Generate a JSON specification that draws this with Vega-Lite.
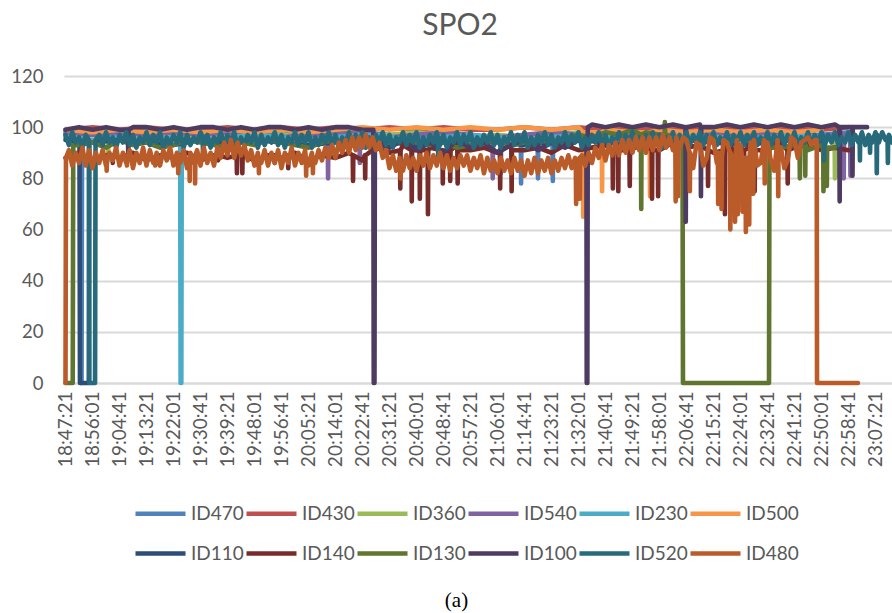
{
"$schema":"https://vega.github.io/schema/vega-lite/v6.json",
"width":828,"height":307,
"autosize":{"type":"none"},
"padding":{"left":64,"top":76,"right":0,"bottom":230},
"background":"white",
"title":{"text":"SPO2","font":"Lato","fontSize":30,"fontWeight":"normal","color":"#595959","anchor":"middle","dx":-18,"offset":26},
"config":{"view":{"stroke":null},"line":{"strokeWidth":4.6,"strokeCap":"round","strokeJoin":"round"}},
"datasets":{
"ID470":[{"t":67641,"v":97},{"t":68161,"v":98},{"t":68681,"v":97},{"t":69201,"v":98},{"t":69721,"v":96},{"t":70241,"v":98},{"t":70761,"v":97},{"t":71281,"v":98},{"t":71801,"v":97},{"t":72321,"v":98},{"t":72841,"v":97},{"t":73361,"v":98},{"t":73881,"v":97},{"t":74401,"v":96},{"t":74921,"v":97},{"t":75441,"v":96},{"t":75961,"v":95},{"t":76481,"v":96},{"t":77001,"v":95},{"t":77521,"v":97},{"t":78041,"v":98},{"t":78561,"v":97},{"t":79081,"v":98},{"t":79601,"v":97},{"t":80121,"v":98},{"t":80641,"v":97},{"t":81161,"v":98},{"t":81681,"v":97},{"t":82201,"v":97},{"t":82721,"v":98},{"t":67925,"v":97},{"t":67935,"v":0},{"t":67950,"v":0},{"t":67960,"v":97},{"t":76020,"v":96},{"t":76026,"v":82},{"t":76032,"v":96},{"t":76410,"v":96},{"t":76416,"v":78},{"t":76422,"v":96},{"t":76735,"v":95},{"t":76741,"v":80},{"t":76747,"v":95},{"t":77021,"v":95},{"t":77027,"v":79},{"t":77033,"v":95}],
"ID430":[{"t":67641,"v":99},{"t":68161,"v":100},{"t":68681,"v":99},{"t":69201,"v":100},{"t":69721,"v":99},{"t":70241,"v":99},{"t":70761,"v":100},{"t":71281,"v":99},{"t":71801,"v":100},{"t":72321,"v":99},{"t":72841,"v":100},{"t":73361,"v":99},{"t":73881,"v":100},{"t":74401,"v":99},{"t":74921,"v":100},{"t":75441,"v":99},{"t":75961,"v":99},{"t":76481,"v":100},{"t":77001,"v":99},{"t":77521,"v":100},{"t":78041,"v":99},{"t":78561,"v":100},{"t":79081,"v":99},{"t":79601,"v":100},{"t":80121,"v":99},{"t":80641,"v":100},{"t":81161,"v":99},{"t":81681,"v":100},{"t":82201,"v":99},{"t":82721,"v":100}],
"ID360":[{"t":67641,"v":96},{"t":68161,"v":97},{"t":68681,"v":95},{"t":69201,"v":97},{"t":69721,"v":96},{"t":70241,"v":97},{"t":70761,"v":96},{"t":71281,"v":95},{"t":71801,"v":97},{"t":72321,"v":96},{"t":72841,"v":97},{"t":73361,"v":96},{"t":73881,"v":97},{"t":74401,"v":98},{"t":74921,"v":97},{"t":75441,"v":96},{"t":75961,"v":97},{"t":76481,"v":96},{"t":77001,"v":97},{"t":77521,"v":98},{"t":78041,"v":97},{"t":78561,"v":96},{"t":79081,"v":97},{"t":79601,"v":96},{"t":80121,"v":97},{"t":80641,"v":98},{"t":81161,"v":97},{"t":81681,"v":96},{"t":82201,"v":95},{"t":82591,"v":96},{"t":68454,"v":96},{"t":68460,"v":87},{"t":68466,"v":96},{"t":82455,"v":96},{"t":82461,"v":80},{"t":82467,"v":96},{"t":82507,"v":96},{"t":82513,"v":81},{"t":82519,"v":96}],
"ID540":[{"t":67641,"v":98},{"t":68161,"v":97},{"t":68681,"v":98},{"t":69201,"v":97},{"t":69721,"v":98},{"t":70241,"v":97},{"t":70761,"v":98},{"t":71281,"v":97},{"t":71801,"v":96},{"t":72321,"v":97},{"t":72841,"v":98},{"t":73361,"v":97},{"t":73881,"v":96},{"t":74401,"v":97},{"t":74921,"v":98},{"t":75441,"v":97},{"t":75961,"v":96},{"t":76481,"v":97},{"t":77001,"v":98},{"t":77521,"v":97},{"t":78041,"v":98},{"t":78561,"v":97},{"t":79081,"v":98},{"t":79601,"v":97},{"t":80121,"v":98},{"t":80641,"v":97},{"t":81161,"v":98},{"t":81681,"v":97},{"t":82201,"v":96},{"t":82721,"v":97},{"t":82800,"v":97},{"t":72692,"v":97},{"t":72698,"v":80},{"t":72704,"v":97},{"t":73303,"v":97},{"t":73309,"v":86},{"t":73315,"v":97},{"t":75864,"v":96},{"t":75870,"v":80},{"t":75876,"v":96},{"t":82624,"v":97},{"t":82630,"v":80},{"t":82636,"v":97},{"t":82754,"v":97},{"t":82760,"v":81},{"t":82766,"v":97}],
"ID230":[{"t":67641,"v":96},{"t":68161,"v":95},{"t":68681,"v":96},{"t":69201,"v":95},{"t":69721,"v":96},{"t":70241,"v":95},{"t":70761,"v":96},{"t":71281,"v":97},{"t":71801,"v":96},{"t":72321,"v":95},{"t":72841,"v":96},{"t":73361,"v":97},{"t":73881,"v":96},{"t":74401,"v":95},{"t":74921,"v":96},{"t":75441,"v":97},{"t":75961,"v":96},{"t":76481,"v":95},{"t":77001,"v":96},{"t":77521,"v":97},{"t":78041,"v":96},{"t":78561,"v":95},{"t":79081,"v":96},{"t":79601,"v":97},{"t":80121,"v":96},{"t":80641,"v":95},{"t":81161,"v":96},{"t":81681,"v":97},{"t":82201,"v":96},{"t":69850,"v":95},{"t":69858,"v":0},{"t":69872,"v":0},{"t":69880,"v":95}],
"ID500":[{"t":67641,"v":99},{"t":68161,"v":98},{"t":68681,"v":99},{"t":69201,"v":98},{"t":69721,"v":99},{"t":70241,"v":98},{"t":70761,"v":99},{"t":71281,"v":98},{"t":71801,"v":99},{"t":72321,"v":98},{"t":72841,"v":99},{"t":73361,"v":100},{"t":73881,"v":99},{"t":74401,"v":100},{"t":74921,"v":99},{"t":75441,"v":100},{"t":75961,"v":99},{"t":76481,"v":100},{"t":77001,"v":99},{"t":77521,"v":100},{"t":78041,"v":99},{"t":78561,"v":98},{"t":79081,"v":99},{"t":79601,"v":98},{"t":80121,"v":99},{"t":80641,"v":98},{"t":81161,"v":99},{"t":81681,"v":98},{"t":82201,"v":99},{"t":77606,"v":98},{"t":77612,"v":65},{"t":77618,"v":98},{"t":77970,"v":98},{"t":77976,"v":75},{"t":77982,"v":98},{"t":78893,"v":98},{"t":78899,"v":73},{"t":78905,"v":98}],
"ID110":[{"t":67641,"v":95},{"t":67910,"v":94},{"t":67920,"v":0},{"t":68090,"v":0},{"t":68100,"v":94},{"t":68161,"v":94},{"t":68681,"v":95},{"t":69201,"v":94},{"t":69721,"v":93},{"t":70241,"v":95},{"t":70761,"v":94},{"t":71281,"v":95},{"t":71801,"v":94},{"t":72321,"v":93},{"t":72841,"v":94},{"t":73361,"v":95},{"t":73881,"v":94},{"t":74401,"v":93},{"t":74921,"v":94},{"t":75441,"v":95},{"t":75961,"v":94},{"t":76481,"v":93},{"t":77001,"v":94},{"t":77521,"v":95},{"t":78041,"v":94},{"t":78561,"v":93},{"t":79081,"v":94},{"t":79601,"v":95},{"t":80121,"v":94},{"t":80641,"v":93},{"t":81161,"v":94},{"t":81681,"v":95},{"t":82201,"v":94}],
"ID140":[{"t":67641,"v":88},{"t":67901,"v":90},{"t":68161,"v":87},{"t":68421,"v":89},{"t":68681,"v":88},{"t":68941,"v":90},{"t":69201,"v":87},{"t":69461,"v":89},{"t":69721,"v":88},{"t":69981,"v":90},{"t":70241,"v":87},{"t":70501,"v":89},{"t":70761,"v":88},{"t":71021,"v":90},{"t":71281,"v":87},{"t":71541,"v":89},{"t":71801,"v":88},{"t":72061,"v":90},{"t":72321,"v":87},{"t":72581,"v":89},{"t":72841,"v":88},{"t":73101,"v":90},{"t":73361,"v":87},{"t":73621,"v":92},{"t":73881,"v":90},{"t":74141,"v":93},{"t":74401,"v":91},{"t":74661,"v":92},{"t":74921,"v":90},{"t":75181,"v":93},{"t":75441,"v":91},{"t":75701,"v":92},{"t":75961,"v":90},{"t":76221,"v":93},{"t":76481,"v":91},{"t":76741,"v":92},{"t":77001,"v":90},{"t":77261,"v":93},{"t":77521,"v":91},{"t":77781,"v":92},{"t":78041,"v":93},{"t":78301,"v":91},{"t":78561,"v":92},{"t":78821,"v":93},{"t":79081,"v":91},{"t":79341,"v":94},{"t":79601,"v":92},{"t":79861,"v":93},{"t":80121,"v":90},{"t":80381,"v":94},{"t":80641,"v":92},{"t":80901,"v":93},{"t":81161,"v":91},{"t":81421,"v":94},{"t":81681,"v":92},{"t":81941,"v":93},{"t":82201,"v":91},{"t":82461,"v":92},{"t":82721,"v":91},
{"t":68545,"v":89},{"t":68551,"v":86},{"t":68557,"v":89},{"t":70573,"v":89},{"t":70579,"v":87},{"t":70585,"v":89},{"t":70937,"v":89},{"t":70943,"v":82},{"t":70949,"v":89},{"t":71041,"v":89},{"t":71047,"v":82},{"t":71053,"v":89},{"t":71665,"v":89},{"t":71671,"v":86},{"t":71677,"v":89},{"t":71925,"v":89},{"t":71931,"v":84},{"t":71937,"v":89},{"t":73173,"v":89},{"t":73179,"v":79},{"t":73185,"v":89},{"t":73407,"v":89},{"t":73413,"v":80},{"t":73419,"v":89},{"t":74083,"v":91},{"t":74089,"v":76},{"t":74095,"v":91},{"t":74304,"v":91},{"t":74310,"v":71},{"t":74316,"v":91},{"t":74460,"v":91},{"t":74466,"v":72},{"t":74472,"v":91},{"t":74616,"v":91},{"t":74622,"v":66},{"t":74628,"v":91},{"t":74902,"v":91},{"t":74908,"v":78},{"t":74914,"v":91},{"t":75045,"v":91},{"t":75051,"v":79},{"t":75057,"v":91},{"t":75188,"v":91},{"t":75194,"v":78},{"t":75200,"v":91},{"t":76007,"v":91},{"t":76013,"v":76},{"t":76019,"v":91},{"t":76228,"v":91},{"t":76234,"v":75},{"t":76240,"v":91},{"t":78178,"v":91},{"t":78184,"v":76},{"t":78190,"v":91},{"t":78282,"v":91},{"t":78288,"v":75},{"t":78294,"v":91},{"t":78503,"v":91},{"t":78509,"v":77},{"t":78515,"v":91},{"t":78932,"v":91},{"t":78938,"v":72},{"t":78944,"v":91},{"t":79049,"v":91},{"t":79055,"v":73},{"t":79061,"v":91},{"t":80011,"v":91},{"t":80017,"v":77},{"t":80023,"v":91},{"t":80336,"v":91},{"t":80342,"v":66},{"t":80348,"v":91},{"t":80505,"v":91},{"t":80511,"v":70},{"t":80517,"v":91},{"t":80700,"v":91},{"t":80706,"v":72},{"t":80712,"v":91},{"t":80909,"v":91},{"t":80915,"v":75},{"t":80921,"v":91},{"t":81545,"v":91},{"t":81551,"v":78},{"t":81557,"v":91}],
"ID130":[{"t":67641,"v":0},{"t":67780,"v":0},{"t":67790,"v":93},{"t":67901,"v":93},{"t":68161,"v":94},{"t":68421,"v":92},{"t":68681,"v":95},{"t":68941,"v":93},{"t":69201,"v":94},{"t":69461,"v":92},{"t":69721,"v":93},{"t":69981,"v":95},{"t":70241,"v":94},{"t":70501,"v":93},{"t":70761,"v":92},{"t":71021,"v":94},{"t":71281,"v":93},{"t":71541,"v":95},{"t":71801,"v":94},{"t":72061,"v":93},{"t":72321,"v":92},{"t":72581,"v":94},{"t":72841,"v":95},{"t":73101,"v":93},{"t":73361,"v":94},{"t":73621,"v":92},{"t":73881,"v":93},{"t":74141,"v":95},{"t":74401,"v":94},{"t":74661,"v":93},{"t":74921,"v":94},{"t":75181,"v":92},{"t":75441,"v":93},{"t":75701,"v":94},{"t":75961,"v":95},{"t":76221,"v":93},{"t":76481,"v":94},{"t":76741,"v":95},{"t":77001,"v":94},{"t":77261,"v":96},{"t":77521,"v":97},{"t":77781,"v":96},{"t":78041,"v":98},{"t":78301,"v":97},{"t":78561,"v":99},{"t":78821,"v":98},{"t":79081,"v":97},{"t":79341,"v":96},{"t":79525,"v":94},{"t":79534,"v":0},{"t":81191,"v":0},{"t":81200,"v":92},{"t":81421,"v":92},{"t":81681,"v":93},{"t":81941,"v":91},{"t":82201,"v":93},{"t":82461,"v":92},
{"t":78724,"v":97},{"t":78730,"v":68},{"t":78736,"v":97},{"t":79179,"v":97},{"t":79185,"v":102},{"t":79191,"v":97},{"t":81779,"v":93},{"t":81785,"v":80},{"t":81791,"v":93},{"t":81883,"v":93},{"t":81889,"v":81},{"t":81895,"v":93},{"t":82234,"v":92},{"t":82240,"v":75},{"t":82246,"v":92},{"t":82299,"v":92},{"t":82305,"v":77},{"t":82311,"v":92}],
"ID100":[{"t":67641,"v":99},{"t":67901,"v":100},{"t":68161,"v":99},{"t":68421,"v":100},{"t":68681,"v":99},{"t":68941,"v":100},{"t":69201,"v":100},{"t":69461,"v":99},{"t":69721,"v":100},{"t":69981,"v":99},{"t":70241,"v":100},{"t":70501,"v":100},{"t":70761,"v":99},{"t":71021,"v":100},{"t":71281,"v":99},{"t":71541,"v":100},{"t":71801,"v":100},{"t":72061,"v":99},{"t":72321,"v":100},{"t":72581,"v":99},{"t":72841,"v":100},{"t":73101,"v":100},{"t":73361,"v":99},{"t":73570,"v":99},{"t":73578,"v":0},{"t":73592,"v":0},{"t":73600,"v":95},{"t":73621,"v":94},{"t":73881,"v":92},{"t":74141,"v":95},{"t":74401,"v":91},{"t":74661,"v":94},{"t":74921,"v":90},{"t":75181,"v":95},{"t":75441,"v":92},{"t":75701,"v":94},{"t":75961,"v":90},{"t":76221,"v":93},{"t":76481,"v":95},{"t":76741,"v":91},{"t":77001,"v":94},{"t":77261,"v":92},{"t":77521,"v":95},{"t":77675,"v":94},{"t":77680,"v":0},{"t":77692,"v":0},{"t":77700,"v":100},{"t":77781,"v":101},{"t":78041,"v":100},{"t":78301,"v":101},{"t":78561,"v":100},{"t":78821,"v":101},{"t":79081,"v":100},{"t":79341,"v":101},{"t":79601,"v":100},{"t":79861,"v":101},{"t":80121,"v":100},{"t":80381,"v":101},{"t":80641,"v":100},{"t":80901,"v":101},{"t":81161,"v":100},{"t":81421,"v":101},{"t":81681,"v":100},{"t":81941,"v":101},{"t":82201,"v":100},{"t":82461,"v":101},{"t":82721,"v":100},{"t":82981,"v":100},{"t":83080,"v":100},
{"t":68844,"v":99},{"t":68850,"v":88},{"t":68856,"v":99},{"t":79582,"v":100},{"t":79588,"v":63},{"t":79594,"v":100},{"t":79874,"v":100},{"t":79880,"v":73},{"t":79886,"v":100},{"t":82546,"v":100},{"t":82552,"v":71},{"t":82558,"v":100},{"t":82793,"v":100},{"t":82799,"v":81},{"t":82805,"v":100}],
"ID520":[{"t":67641,"v":97},{"t":67706,"v":93},{"t":67771,"v":98},{"t":67836,"v":94},{"t":67901,"v":96},{"t":67966,"v":92},{"t":68031,"v":97},{"t":68090,"v":95},{"t":68100,"v":0},{"t":68210,"v":0},{"t":68220,"v":95},{"t":68291,"v":97},{"t":68356,"v":93},{"t":68421,"v":98},{"t":68486,"v":94},{"t":68551,"v":96},{"t":68616,"v":92},{"t":68681,"v":97},{"t":68746,"v":94},{"t":68811,"v":98},{"t":68876,"v":93},{"t":68941,"v":97},{"t":69006,"v":92},{"t":69071,"v":96},{"t":69136,"v":94},{"t":69201,"v":98},{"t":69266,"v":93},{"t":69331,"v":97},{"t":69396,"v":94},{"t":69461,"v":98},{"t":69526,"v":92},{"t":69591,"v":96},{"t":69656,"v":93},{"t":69721,"v":97},{"t":69786,"v":94},{"t":69851,"v":98},{"t":69916,"v":92},{"t":69981,"v":97},{"t":70046,"v":93},{"t":70111,"v":96},{"t":70176,"v":94},{"t":70241,"v":98},{"t":70306,"v":93},{"t":70371,"v":97},{"t":70436,"v":92},{"t":70501,"v":96},{"t":70566,"v":94},{"t":70631,"v":98},{"t":70696,"v":93},{"t":70761,"v":97},{"t":70826,"v":94},{"t":70891,"v":98},{"t":70956,"v":92},{"t":71021,"v":96},{"t":71086,"v":93},{"t":71151,"v":97},{"t":71216,"v":94},{"t":71281,"v":98},{"t":71346,"v":92},{"t":71411,"v":97},{"t":71476,"v":93},{"t":71541,"v":96},{"t":71606,"v":94},{"t":71671,"v":98},{"t":71736,"v":93},{"t":71801,"v":97},{"t":71866,"v":92},{"t":71931,"v":96},{"t":71996,"v":94},{"t":72061,"v":98},{"t":72126,"v":93},{"t":72191,"v":97},{"t":72256,"v":94},{"t":72321,"v":98},{"t":72386,"v":92},{"t":72451,"v":96},{"t":72516,"v":93},{"t":72581,"v":97},{"t":72646,"v":94},{"t":72711,"v":98},{"t":72776,"v":93},{"t":72841,"v":97},{"t":72906,"v":92},{"t":72971,"v":96},{"t":73036,"v":94},{"t":73101,"v":98},{"t":73166,"v":93},{"t":73231,"v":97},{"t":73296,"v":94},{"t":73361,"v":98},{"t":73426,"v":92},{"t":73491,"v":96},{"t":73556,"v":93},{"t":73621,"v":97},{"t":73686,"v":94},{"t":73751,"v":98},{"t":73816,"v":93},{"t":73881,"v":97},{"t":73946,"v":92},{"t":74011,"v":96},{"t":74076,"v":94},{"t":74141,"v":98},{"t":74206,"v":93},{"t":74271,"v":97},{"t":74336,"v":94},{"t":74401,"v":98},{"t":74466,"v":92},{"t":74531,"v":96},{"t":74596,"v":93},{"t":74661,"v":97},{"t":74726,"v":94},{"t":74791,"v":98},{"t":74856,"v":93},{"t":74921,"v":97},{"t":74986,"v":92},{"t":75051,"v":96},{"t":75116,"v":94},{"t":75181,"v":98},{"t":75246,"v":93},{"t":75311,"v":97},{"t":75376,"v":94},{"t":75441,"v":98},{"t":75506,"v":92},{"t":75571,"v":96},{"t":75636,"v":93},{"t":75701,"v":97},{"t":75766,"v":94},{"t":75831,"v":98},{"t":75896,"v":93},{"t":75961,"v":97},{"t":76026,"v":92},{"t":76091,"v":96},{"t":76156,"v":94},{"t":76221,"v":98},{"t":76286,"v":93},{"t":76351,"v":97},{"t":76416,"v":94},{"t":76481,"v":98},{"t":76546,"v":92},{"t":76611,"v":96},{"t":76676,"v":93},{"t":76741,"v":97},{"t":76806,"v":94},{"t":76871,"v":98},{"t":76936,"v":93},{"t":77001,"v":97},{"t":77066,"v":92},{"t":77131,"v":96},{"t":77196,"v":94},{"t":77261,"v":98},{"t":77326,"v":93},{"t":77391,"v":97},{"t":77456,"v":94},{"t":77521,"v":98},{"t":77586,"v":92},{"t":77651,"v":96},{"t":77716,"v":93},{"t":77781,"v":97},{"t":77846,"v":94},{"t":77911,"v":98},{"t":77976,"v":93},{"t":78041,"v":97},{"t":78106,"v":92},{"t":78171,"v":96},{"t":78236,"v":94},{"t":78301,"v":98},{"t":78366,"v":93},{"t":78431,"v":97},{"t":78496,"v":94},{"t":78561,"v":98},{"t":78626,"v":92},{"t":78691,"v":96},{"t":78756,"v":93},{"t":78821,"v":97},{"t":78886,"v":94},{"t":78951,"v":98},{"t":79016,"v":93},{"t":79081,"v":97},{"t":79146,"v":92},{"t":79211,"v":96},{"t":79276,"v":94},{"t":79341,"v":98},{"t":79406,"v":93},{"t":79471,"v":97},{"t":79536,"v":94},{"t":79601,"v":98},{"t":79666,"v":93},{"t":79731,"v":97},{"t":79796,"v":94},{"t":79861,"v":98},{"t":79926,"v":93},{"t":79991,"v":97},{"t":80056,"v":94},{"t":80121,"v":98},{"t":80186,"v":93},{"t":80251,"v":96},{"t":80316,"v":94},{"t":80381,"v":98},{"t":80446,"v":93},{"t":80511,"v":97},{"t":80576,"v":94},{"t":80641,"v":98},{"t":80706,"v":93},{"t":80771,"v":97},{"t":80836,"v":94},{"t":80901,"v":98},{"t":80966,"v":93},{"t":81031,"v":96},{"t":81096,"v":94},{"t":81161,"v":98},{"t":81226,"v":93},{"t":81291,"v":97},{"t":81356,"v":94},{"t":81421,"v":98},{"t":81486,"v":93},{"t":81551,"v":97},{"t":81616,"v":94},{"t":81681,"v":98},{"t":81746,"v":93},{"t":81811,"v":96},{"t":81876,"v":94},{"t":81941,"v":98},{"t":82006,"v":93},{"t":82071,"v":97},{"t":82136,"v":94},{"t":82201,"v":98},{"t":82266,"v":93},{"t":82331,"v":97},{"t":82396,"v":94},{"t":82461,"v":98},{"t":82526,"v":93},{"t":82591,"v":96},{"t":82656,"v":94},{"t":82721,"v":98},{"t":82786,"v":93},{"t":82851,"v":97},{"t":82916,"v":94},{"t":82981,"v":98},{"t":83046,"v":93},{"t":83111,"v":97},{"t":83176,"v":94},{"t":83241,"v":98},{"t":83306,"v":94},{"t":83371,"v":98},{"t":83436,"v":95},{"t":83501,"v":97},{"t":83559,"v":94},
{"t":70284,"v":96},{"t":70290,"v":88},{"t":70296,"v":96},{"t":74814,"v":96},{"t":74820,"v":88},{"t":74826,"v":96},{"t":82244,"v":96},{"t":82250,"v":87},{"t":82256,"v":96},{"t":82936,"v":96},{"t":82942,"v":87},{"t":82948,"v":96},{"t":83131,"v":96},{"t":83137,"v":90},{"t":83143,"v":96},{"t":83261,"v":97},{"t":83267,"v":82},{"t":83273,"v":97},{"t":83474,"v":96},{"t":83480,"v":86},{"t":83486,"v":96}],
"ID480":[{"t":67641,"v":0},{"t":67650,"v":88},{"t":67706,"v":91},{"t":67771,"v":85},{"t":67836,"v":90},{"t":67901,"v":86},{"t":67966,"v":92},{"t":68031,"v":85},{"t":68096,"v":91},{"t":68161,"v":84},{"t":68226,"v":90},{"t":68291,"v":86},{"t":68356,"v":91},{"t":68421,"v":85},{"t":68486,"v":90},{"t":68551,"v":87},{"t":68616,"v":92},{"t":68681,"v":85},{"t":68746,"v":90},{"t":68811,"v":86},{"t":68876,"v":91},{"t":68941,"v":84},{"t":69006,"v":90},{"t":69071,"v":86},{"t":69136,"v":92},{"t":69201,"v":85},{"t":69266,"v":91},{"t":69331,"v":86},{"t":69396,"v":90},{"t":69461,"v":85},{"t":69526,"v":91},{"t":69591,"v":87},{"t":69656,"v":92},{"t":69721,"v":85},{"t":69786,"v":90},{"t":69851,"v":86},{"t":69916,"v":91},{"t":69981,"v":84},{"t":70046,"v":90},{"t":70111,"v":86},{"t":70176,"v":91},{"t":70241,"v":85},{"t":70306,"v":92},{"t":70371,"v":86},{"t":70436,"v":90},{"t":70501,"v":85},{"t":70566,"v":92},{"t":70631,"v":88},{"t":70696,"v":94},{"t":70761,"v":89},{"t":70826,"v":95},{"t":70891,"v":88},{"t":70956,"v":94},{"t":71021,"v":89},{"t":71086,"v":93},{"t":71151,"v":87},{"t":71216,"v":91},{"t":71281,"v":85},{"t":71346,"v":90},{"t":71411,"v":86},{"t":71476,"v":91},{"t":71541,"v":85},{"t":71606,"v":90},{"t":71671,"v":86},{"t":71736,"v":91},{"t":71801,"v":84},{"t":71866,"v":90},{"t":71931,"v":86},{"t":71996,"v":92},{"t":72061,"v":85},{"t":72126,"v":90},{"t":72191,"v":86},{"t":72256,"v":91},{"t":72321,"v":85},{"t":72386,"v":90},{"t":72451,"v":86},{"t":72516,"v":91},{"t":72581,"v":87},{"t":72646,"v":92},{"t":72711,"v":88},{"t":72776,"v":93},{"t":72841,"v":88},{"t":72906,"v":94},{"t":72971,"v":90},{"t":73036,"v":95},{"t":73101,"v":90},{"t":73166,"v":96},{"t":73231,"v":91},{"t":73296,"v":96},{"t":73361,"v":92},{"t":73426,"v":97},{"t":73491,"v":92},{"t":73556,"v":96},{"t":73621,"v":91},{"t":73686,"v":94},{"t":73751,"v":88},{"t":73816,"v":91},{"t":73881,"v":84},{"t":73946,"v":89},{"t":74011,"v":83},{"t":74076,"v":88},{"t":74141,"v":83},{"t":74206,"v":89},{"t":74271,"v":84},{"t":74336,"v":88},{"t":74401,"v":83},{"t":74466,"v":89},{"t":74531,"v":85},{"t":74596,"v":90},{"t":74661,"v":84},{"t":74726,"v":89},{"t":74791,"v":85},{"t":74856,"v":90},{"t":74921,"v":84},{"t":74986,"v":89},{"t":75051,"v":83},{"t":75116,"v":88},{"t":75181,"v":84},{"t":75246,"v":89},{"t":75311,"v":85},{"t":75376,"v":89},{"t":75441,"v":83},{"t":75506,"v":88},{"t":75571,"v":84},{"t":75636,"v":89},{"t":75701,"v":82},{"t":75766,"v":88},{"t":75831,"v":83},{"t":75896,"v":87},{"t":75961,"v":82},{"t":76026,"v":88},{"t":76091,"v":83},{"t":76156,"v":87},{"t":76221,"v":82},{"t":76286,"v":88},{"t":76351,"v":83},{"t":76416,"v":87},{"t":76481,"v":81},{"t":76546,"v":87},{"t":76611,"v":82},{"t":76676,"v":88},{"t":76741,"v":82},{"t":76806,"v":87},{"t":76871,"v":83},{"t":76936,"v":88},{"t":77001,"v":82},{"t":77066,"v":87},{"t":77131,"v":83},{"t":77196,"v":88},{"t":77261,"v":84},{"t":77326,"v":89},{"t":77391,"v":84},{"t":77456,"v":88},{"t":77521,"v":84},{"t":77586,"v":89},{"t":77651,"v":85},{"t":77716,"v":90},{"t":77781,"v":86},{"t":77846,"v":92},{"t":77911,"v":88},{"t":77976,"v":93},{"t":78041,"v":87},{"t":78106,"v":93},{"t":78171,"v":89},{"t":78236,"v":94},{"t":78301,"v":89},{"t":78366,"v":95},{"t":78431,"v":90},{"t":78496,"v":95},{"t":78561,"v":90},{"t":78626,"v":96},{"t":78691,"v":91},{"t":78756,"v":96},{"t":78821,"v":90},{"t":78886,"v":96},{"t":78951,"v":91},{"t":79016,"v":96},{"t":79081,"v":91},{"t":79146,"v":97},{"t":79211,"v":92},{"t":79276,"v":96},{"t":79341,"v":91},{"t":79406,"v":96},{"t":79471,"v":92},{"t":79536,"v":96},{"t":79601,"v":95},{"t":79731,"v":84},{"t":79796,"v":94},{"t":79861,"v":93},{"t":79926,"v":85},{"t":79991,"v":88},{"t":80056,"v":96},{"t":80121,"v":95},{"t":80186,"v":86},{"t":80251,"v":82},{"t":80316,"v":95},{"t":80381,"v":94},{"t":80511,"v":85},{"t":80576,"v":95},{"t":80641,"v":93},{"t":80706,"v":84},{"t":80771,"v":80},{"t":80836,"v":94},{"t":80901,"v":95},{"t":80966,"v":85},{"t":81031,"v":86},{"t":81096,"v":95},{"t":81161,"v":94},{"t":81226,"v":87},{"t":81291,"v":83},{"t":81356,"v":95},{"t":81421,"v":92},{"t":81486,"v":84},{"t":81551,"v":87},{"t":81616,"v":96},{"t":81681,"v":95},{"t":81746,"v":88},{"t":81811,"v":94},{"t":81876,"v":95},{"t":81941,"v":96},{"t":82006,"v":93},{"t":82071,"v":95},{"t":82110,"v":95},{"t":82116,"v":0},{"t":82904,"v":0},
{"t":68428,"v":87},{"t":68434,"v":83},{"t":68440,"v":87},{"t":68818,"v":88},{"t":68824,"v":85},{"t":68830,"v":88},{"t":69364,"v":88},{"t":69370,"v":85},{"t":69376,"v":88},{"t":69806,"v":89},{"t":69812,"v":82},{"t":69818,"v":89},{"t":70027,"v":88},{"t":70033,"v":79},{"t":70039,"v":88},{"t":70131,"v":89},{"t":70137,"v":78},{"t":70143,"v":89},{"t":71360,"v":88},{"t":71366,"v":82},{"t":71372,"v":88},{"t":72270,"v":88},{"t":72276,"v":81},{"t":72282,"v":88},{"t":72400,"v":88},{"t":72406,"v":82},{"t":72412,"v":88},{"t":74090,"v":85},{"t":74096,"v":80},{"t":74102,"v":85},{"t":77470,"v":86},{"t":77476,"v":70},{"t":77482,"v":86},{"t":77541,"v":88},{"t":77547,"v":72},{"t":77553,"v":88},{"t":79387,"v":93},{"t":79393,"v":71},{"t":79399,"v":93},{"t":79434,"v":93},{"t":79440,"v":73},{"t":79446,"v":93},{"t":79660,"v":90},{"t":79666,"v":75},{"t":79672,"v":90},{"t":80206,"v":90},{"t":80212,"v":70},{"t":80218,"v":90},{"t":80271,"v":88},{"t":80277,"v":68},{"t":80283,"v":88},{"t":80440,"v":90},{"t":80446,"v":60},{"t":80452,"v":90},{"t":80531,"v":88},{"t":80537,"v":63},{"t":80543,"v":88},{"t":80583,"v":88},{"t":80589,"v":66},{"t":80595,"v":88},{"t":80674,"v":88},{"t":80680,"v":67},{"t":80686,"v":88},{"t":80739,"v":88},{"t":80745,"v":59},{"t":80751,"v":88},{"t":80804,"v":88},{"t":80810,"v":62},{"t":80816,"v":88},{"t":80882,"v":90},{"t":80888,"v":74},{"t":80894,"v":90},{"t":81103,"v":90},{"t":81109,"v":78},{"t":81115,"v":90},{"t":81363,"v":90},{"t":81369,"v":73},{"t":81375,"v":90}]
},
"encoding":{
"x":{"field":"t","type":"quantitative","scale":{"domain":[67612,83560],"nice":false,"zero":false},
"axis":{"values":[67641,68161,68681,69201,69721,70241,70761,71281,71801,72321,72841,73361,73881,74401,74921,75441,75961,76481,77001,77521,78041,78561,79081,79601,80121,80641,81161,81681,82201,82721,83241],
"labelExpr":"timeFormat(datetime(2000,0,1,0,0,datum.value),'%H:%M:%S')","labelAngle":-90,"labelFont":"Lato","labelFontSize":19,"labelColor":"#595959","labelPadding":8,"labelOverlap":false,"ticks":false,"tickSize":0,"domain":true,"domainColor":"#D9D9D9","domainWidth":1.8,"grid":false,
"title":"(a)","titleFont":"Liberation Serif","titleFontSize":21,"titleFontWeight":"normal","titleColor":"#000000","titleX":392,"titleY":217,"titleBaseline":"middle","titleAlign":"center"}},
"y":{"field":"v","type":"quantitative","scale":{"domain":[0,120],"nice":false},
"axis":{"values":[0,20,40,60,80,100,120],"grid":true,"gridColor":"#D9D9D9","gridWidth":1.8,"domain":false,"ticks":false,"tickSize":0,"labelFont":"Lato","labelFontSize":18.5,"labelColor":"#595959","labelPadding":21,"title":null}}
},
"layer":[
{"data":{"name":"ID470"},"mark":"line","encoding":{"color":{"datum":"ID470","scale":{"domain":["ID470","ID430","ID360","ID540","ID230","ID500","ID110","ID140","ID130","ID100","ID520","ID480"],"range":["#4F81BD","#C0504D","#9BBB59","#8064A2","#4BACC6","#F79646","#2C4D75","#772C2A","#5F7530","#4D3B62","#276A7C","#BA5C2A"]},
"legend":{"title":null,"orient":"none","legendX":69,"legendY":410,"direction":"horizontal","columns":6,"symbolType":"stroke","symbolSize":2500,"symbolStrokeWidth":5,"labelFont":"Lato","labelFontSize":19,"labelColor":"#595959","labelOffset":3,"columnPadding":-3,"rowPadding":2,"padding":0}}}},
{"data":{"name":"ID430"},"mark":"line","encoding":{"color":{"datum":"ID430"}}},
{"data":{"name":"ID360"},"mark":"line","encoding":{"color":{"datum":"ID360"}}},
{"data":{"name":"ID540"},"mark":"line","encoding":{"color":{"datum":"ID540"}}},
{"data":{"name":"ID230"},"mark":"line","encoding":{"color":{"datum":"ID230"}}},
{"data":{"name":"ID500"},"mark":"line","encoding":{"color":{"datum":"ID500"}}},
{"data":{"name":"ID110"},"mark":"line","encoding":{"color":{"datum":"ID110"}}},
{"data":{"name":"ID140"},"mark":"line","encoding":{"color":{"datum":"ID140"}}},
{"data":{"name":"ID130"},"mark":"line","encoding":{"color":{"datum":"ID130"}}},
{"data":{"name":"ID100"},"mark":"line","encoding":{"color":{"datum":"ID100"}}},
{"data":{"name":"ID520"},"mark":"line","encoding":{"color":{"datum":"ID520"}}},
{"data":{"name":"ID480"},"mark":"line","encoding":{"color":{"datum":"ID480"}}}
]
}
